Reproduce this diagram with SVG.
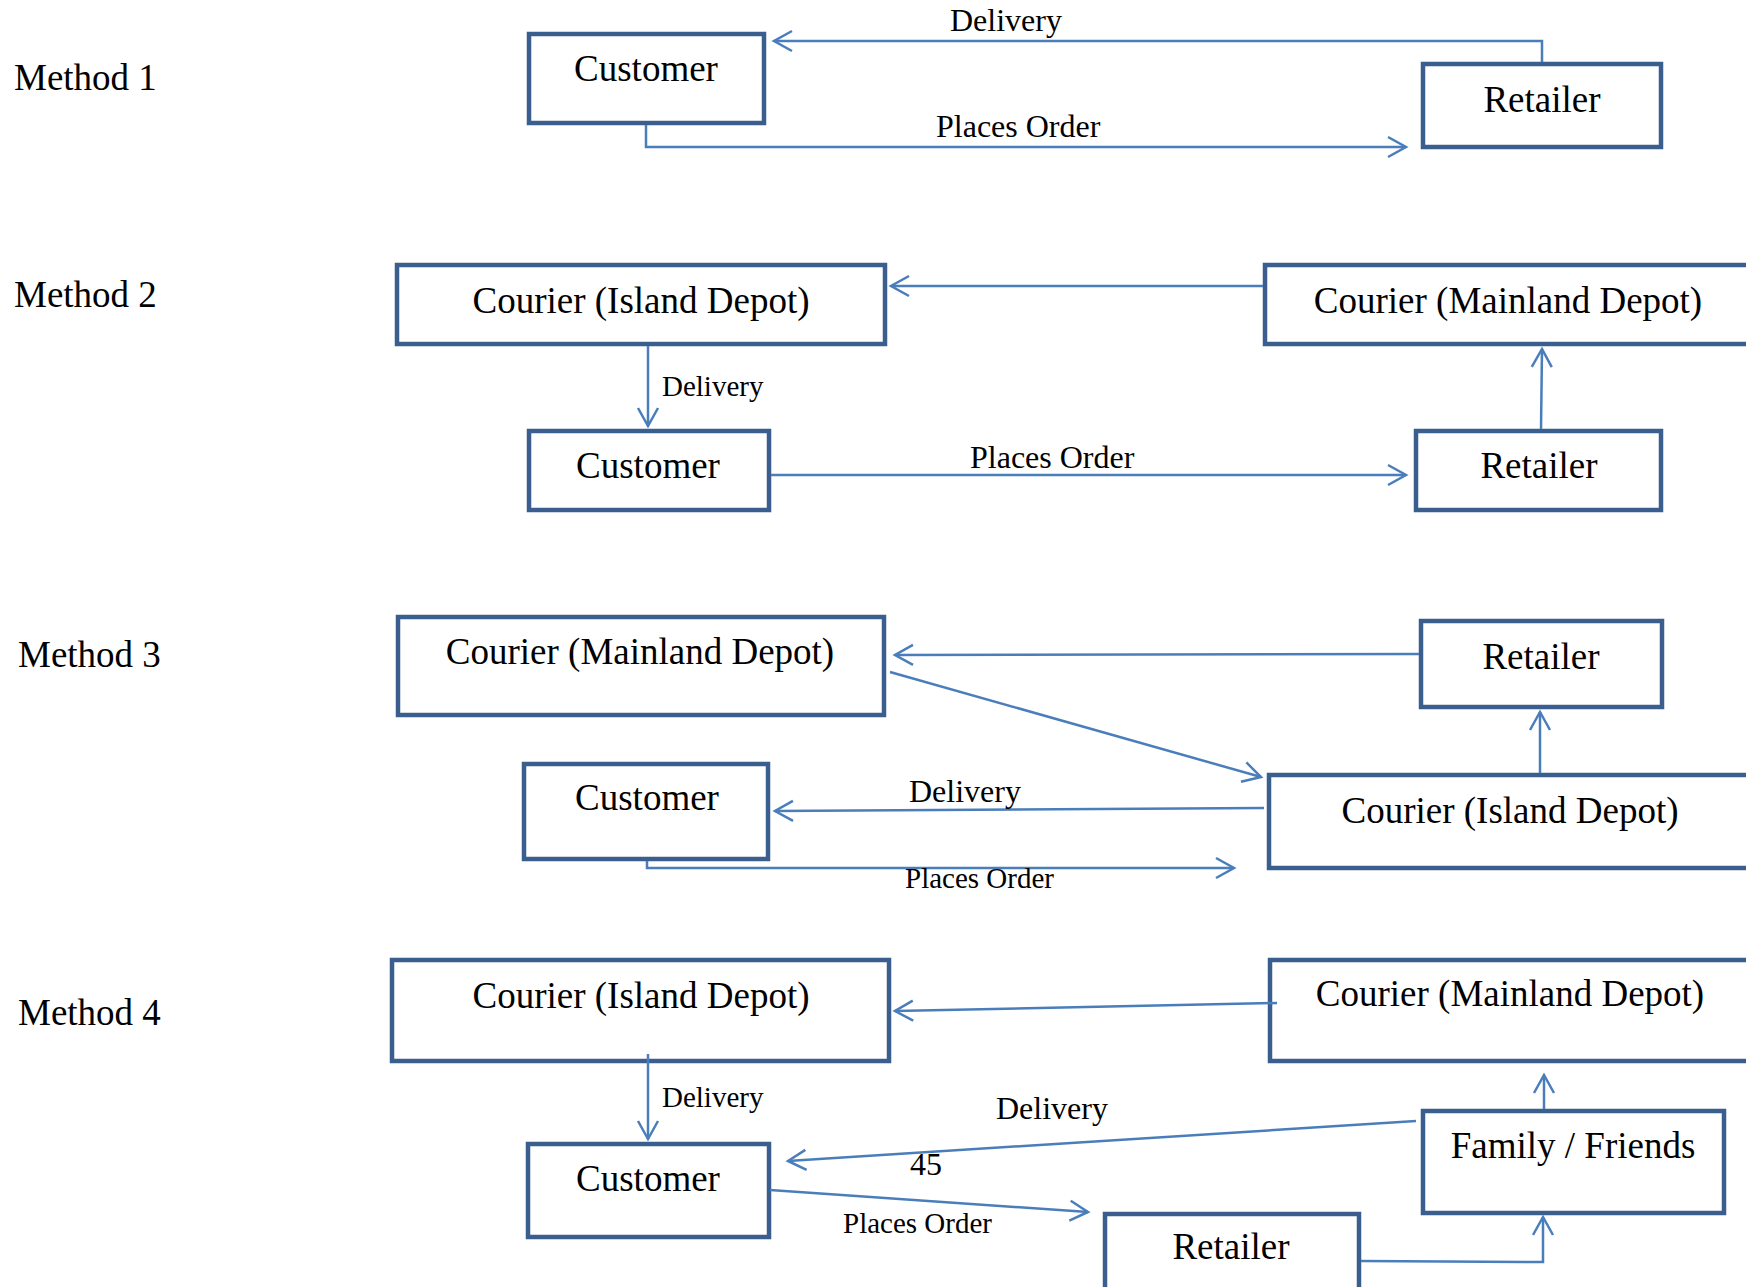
<svg xmlns="http://www.w3.org/2000/svg" width="1746" height="1287" viewBox="0 0 1746 1287">
<style>
.box{fill:#fff;stroke:#3A5F8F;stroke-width:4.5}
.t{font-family:"Liberation Serif","Times New Roman",serif;font-size:37px;fill:#000;text-anchor:middle}
.m{font-family:"Liberation Serif","Times New Roman",serif;font-size:37px;fill:#000}
.l{font-family:"Liberation Serif","Times New Roman",serif;font-size:32px;fill:#000}
.s{font-family:"Liberation Serif","Times New Roman",serif;font-size:29px;fill:#000}
.c{fill:none;stroke:#4A7EBB;stroke-width:2.5}
.ca{fill:none;stroke:#4A7EBB;stroke-width:2.5;marker-end:url(#arr)}
</style>
<defs>
<marker id="arr" markerUnits="userSpaceOnUse" markerWidth="26" markerHeight="26" viewBox="-3 -3 26 26" refX="18" refY="10" orient="auto">
<path d="M0,0 L18,10 L0,20" fill="none" stroke="#4A7EBB" stroke-width="2.5"/>
</marker>
</defs>
<rect width="1746" height="1287" fill="#fff"/>
<g id="method-labels">
<text class="m" x="14" y="90">Method 1</text>
<text class="m" x="14" y="307">Method 2</text>
<text class="m" x="18" y="667">Method 3</text>
<text class="m" x="18" y="1025">Method 4</text>
</g>
<g id="m1-customer"><rect class="box" x="529" y="34" width="235" height="89"/><text class="t" x="646" y="81">Customer</text></g>
<g id="m1-retailer"><rect class="box" x="1423" y="64" width="238" height="83"/><text class="t" x="1542" y="112">Retailer</text></g>
<g id="m2-island"><rect class="box" x="397" y="265" width="488" height="79"/><text class="t" x="641" y="313">Courier (Island Depot)</text></g>
<g id="m2-mainland"><rect class="box" x="1265" y="265" width="500" height="79"/><text class="t" x="1508" y="313">Courier (Mainland Depot)</text></g>
<g id="m2-customer"><rect class="box" x="529" y="431" width="240" height="79"/><text class="t" x="648" y="478">Customer</text></g>
<g id="m2-retailer"><rect class="box" x="1416" y="431" width="245" height="79"/><text class="t" x="1539" y="478">Retailer</text></g>
<g id="m3-mainland"><rect class="box" x="398" y="617" width="486" height="98"/><text class="t" x="640" y="664">Courier (Mainland Depot)</text></g>
<g id="m3-retailer"><rect class="box" x="1421" y="621" width="241" height="86"/><text class="t" x="1541" y="669">Retailer</text></g>
<g id="m3-island"><rect class="box" x="1269" y="775" width="500" height="93"/><text class="t" x="1510" y="823">Courier (Island Depot)</text></g>
<g id="m3-customer"><rect class="box" x="524" y="764" width="244" height="95"/><text class="t" x="647" y="810">Customer</text></g>
<g id="m4-island"><rect class="box" x="392" y="960" width="497" height="101"/><text class="t" x="641" y="1008">Courier (Island Depot)</text></g>
<g id="m4-mainland"><rect class="box" x="1270" y="960" width="500" height="101"/><text class="t" x="1510" y="1006">Courier (Mainland Depot)</text></g>
<g id="m4-customer"><rect class="box" x="528" y="1144" width="241" height="93"/><text class="t" x="648" y="1191">Customer</text></g>
<g id="m4-family"><rect class="box" x="1423" y="1111" width="301" height="102"/><text class="t" x="1573" y="1158">Family / Friends</text></g>
<g id="m4-retailer"><rect class="box" x="1105" y="1214" width="254" height="100"/><text class="t" x="1231" y="1259">Retailer</text></g>
<g id="connectors">
<path class="ca" d="M1542,62 V41 H774"/>
<path class="ca" d="M646,125 V147 H1406"/>
<path class="ca" d="M1263,286 H891"/>
<path class="ca" d="M648,346 V426"/>
<path class="ca" d="M771,475 H1406"/>
<path class="ca" d="M1541,429 L1542,349"/>
<path class="ca" d="M1419,654 L895,655"/>
<path class="ca" d="M890,672 L1261,777"/>
<path class="ca" d="M1264,808 L775,811"/>
<path class="ca" d="M647,861 V868 H1234"/>
<path class="ca" d="M1540,773 V712"/>
<path class="ca" d="M1277,1003 L895,1011"/>
<path class="ca" d="M648,1054 V1139"/>
<path class="ca" d="M1416,1121 L788,1161"/>
<path class="ca" d="M770,1190 L1088,1212"/>
<path class="ca" d="M1544,1109 V1075"/>
<path class="ca" d="M1361,1261 L1543,1262 V1217"/>
</g>
<g id="connector-labels">
<text class="l" x="950" y="31">Delivery</text>
<text class="l" x="936" y="137">Places Order</text>
<text class="s" x="662" y="396">Delivery</text>
<text class="l" x="970" y="468">Places Order</text>
<text class="l" x="909" y="802">Delivery</text>
<text class="s" x="905" y="888">Places Order</text>
<text class="s" x="662" y="1107">Delivery</text>
<text class="l" x="996" y="1119">Delivery</text>
<text class="l" x="910" y="1175">45</text>
<text class="s" x="843" y="1233">Places Order</text>
</g>
</svg>
